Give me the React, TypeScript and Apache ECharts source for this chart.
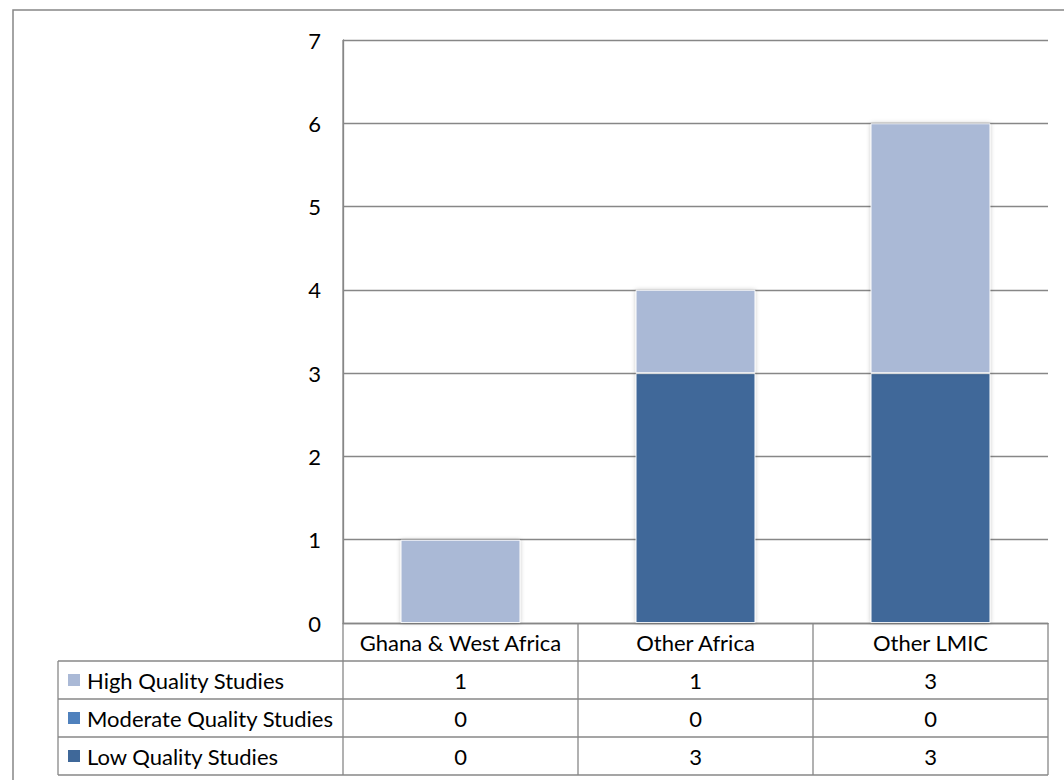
import React, { useEffect, useRef } from "react";
import * as echarts from "echarts";

const categories = ["Ghana & West Africa", "Other Africa", "Other LMIC"];
const seriesNames = ["High Quality Studies", "Moderate Quality Studies", "Low Quality Studies"];
const highValues = [1, 1, 3];
const moderateValues = [0, 0, 0];
const lowValues = [0, 3, 3];
const seriesColors = ["#AAB9D6", "#4F81BD", "#3F6899"];
const yTicks = { min: 0, max: 7, interval: 1 };

const FONT = "Lato";
const FS = 22;
const LINE = "#878787";

export default function App() {
  const ref = useRef<HTMLDivElement>(null);
  useEffect(() => {
    if (!ref.current) return;
    const chart = echarts.init(ref.current, null, { renderer: "svg" });
    const tableValues = [highValues, moderateValues, lowValues];
    const barItem = (color: string) => ({
      color,
      borderColor: "rgba(255,255,255,0.85)",
      borderWidth: 1,
      shadowBlur: 4,
      shadowColor: "rgba(0,0,0,0.25)",
    });
    chart.setOption({
      animation: false,
      grid: { left: 343, top: 40, right: 16, bottom: 157 },
      xAxis: {
        type: "category",
        data: categories,
        axisLine: { show: true, lineStyle: { color: LINE, width: 1.3 } },
        axisTick: { show: false },
        axisLabel: { show: false },
      },
      yAxis: {
        type: "value",
        min: yTicks.min,
        max: yTicks.max,
        interval: yTicks.interval,
        axisLine: { show: true, lineStyle: { color: LINE, width: 1.3 } },
        axisTick: { show: false },
        axisLabel: { color: "#000", fontFamily: FONT, fontSize: FS, margin: 22 },
        splitLine: { lineStyle: { color: LINE, width: 1.3 } },
      },
      series: [
        { name: seriesNames[2], type: "bar", stack: "s", data: lowValues, barWidth: "51%", itemStyle: barItem(seriesColors[2]) },
        { name: seriesNames[1], type: "bar", stack: "s", data: moderateValues, barWidth: "51%", itemStyle: barItem(seriesColors[1]) },
        { name: seriesNames[0], type: "bar", stack: "s", data: highValues, barWidth: "51%", itemStyle: barItem(seriesColors[0]) },
      ],
    });

    // Build data table beneath the plot using the axis scale
    const c0 = chart.convertToPixel({ xAxisIndex: 0 }, 0) as number;
    const c1 = chart.convertToPixel({ xAxisIndex: 0 }, 1) as number;
    const band = c1 - c0;
    const leftX = c0 - band / 2;
    const rightX = leftX + band * categories.length;
    const y0 = chart.convertToPixel({ yAxisIndex: 0 }, 0) as number;
    const yTop = chart.convertToPixel({ yAxisIndex: 0 }, yTicks.max) as number;
    const rowH = 38;
    const tableLeft = 58;
    const nRows = seriesNames.length;
    const tableBottom = y0 + rowH * (nRows + 1);
    const g: any[] = [];
    const ls = { stroke: LINE, lineWidth: 1.3 };
    g.push({ type: "rect", shape: { x: 13, y: 10, width: 1100, height: 800 }, style: { fill: "none", stroke: LINE, lineWidth: 1.5 }, silent: true });
    g.push({ type: "line", shape: { x1: leftX, y1: yTop, x2: leftX, y2: tableBottom }, style: ls });
    for (let r = 1; r <= nRows + 1; r++) {
      const y = y0 + rowH * r;
      g.push({ type: "line", shape: { x1: tableLeft, y1: y, x2: rightX, y2: y }, style: ls });
    }
    g.push({ type: "line", shape: { x1: tableLeft, y1: y0 + rowH, x2: tableLeft, y2: tableBottom }, style: ls });
    for (let i = 1; i <= categories.length; i++) {
      const x = leftX + band * i;
      g.push({ type: "line", shape: { x1: x, y1: y0, x2: x, y2: tableBottom }, style: ls });
    }
    categories.forEach((cat, i) => {
      g.push({
        type: "text",
        x: leftX + band * (i + 0.5),
        y: y0 + rowH / 2,
        style: { text: cat, font: `${FS}px ${FONT}`, fill: "#000", align: "center", verticalAlign: "middle" },
      });
    });
    seriesNames.forEach((name, r) => {
      const yc = y0 + rowH * (r + 1.5);
      g.push({ type: "rect", shape: { x: tableLeft + 10, y: yc - 6, width: 12, height: 12 }, style: { fill: seriesColors[r] } });
      g.push({
        type: "text",
        x: tableLeft + 29,
        y: yc,
        style: { text: name, font: `${FS}px ${FONT}`, fill: "#000", align: "left", verticalAlign: "middle" },
      });
      tableValues[r].forEach((v, i) => {
        g.push({
          type: "text",
          x: leftX + band * (i + 0.5),
          y: yc,
          style: { text: String(v), font: `${FS}px ${FONT}`, fill: "#000", align: "center", verticalAlign: "middle" },
        });
      });
    });
    chart.setOption({ graphic: g });
    return () => chart.dispose();
  }, []);
  return (
    <div
      ref={ref}
      style={{ position: "fixed", left: 0, top: 0, width: 1064, height: 780, background: "#fff" }}
    />
  );
}
